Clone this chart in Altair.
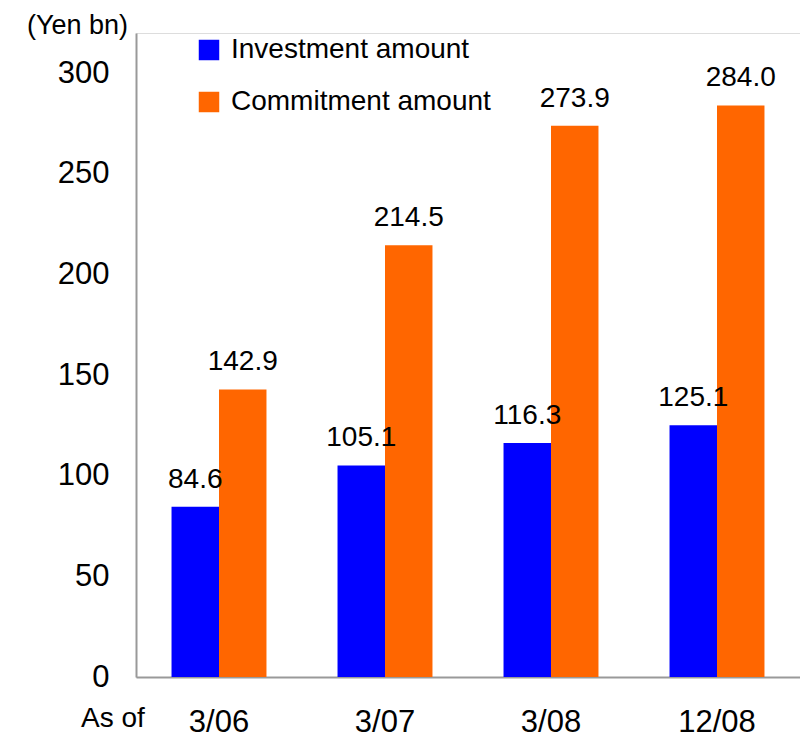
import altair as alt
import pandas as pd

# Balances by reporting date (Yen bn)
periods = ["3/06", "3/07", "3/08", "12/08"]
series_names = ["Investment amount", "Commitment amount"]
investment = [84.6, 105.1, 116.3, 125.1]
commitment = [142.9, 214.5, 273.9, 284.0]
series_colors = ["#0000FF", "#FF6600"]
y_ticks = [0, 50, 100, 150, 200, 250, 300]

rows = []
for p, inv, com in zip(periods, investment, commitment):
    rows.append({"period": p, "series": series_names[0], "value": inv, "label": f"{inv:.1f}"})
    rows.append({"period": p, "series": series_names[1], "value": com, "label": f"{com:.1f}"})
df = pd.DataFrame(rows)

FONT = "Liberation Sans"

x_enc = alt.X(
    "period:N",
    sort=periods,
    scale=alt.Scale(paddingInner=0.428, paddingOuter=0.214),
    axis=alt.Axis(
        title=None, labelAngle=0, ticks=False, labelFontSize=31, labelPadding=30,
        labelColor="black", domainColor="#999999", domainWidth=2, labelFont=FONT,
    ),
)
xoff_enc = alt.XOffset("series:N", sort=series_names)
y_enc = alt.Y(
    "value:Q",
    scale=alt.Scale(domain=[0, 320], nice=False),
    axis=alt.Axis(
        title=None, values=y_ticks, ticks=False, grid=False, labelFontSize=31,
        labelPadding=27, labelColor="black", domainColor="#999999", domainWidth=2,
        labelFont=FONT,
    ),
)

bars = alt.Chart(df).mark_bar().encode(
    x=x_enc,
    xOffset=xoff_enc,
    y=y_enc,
    color=alt.Color(
        "series:N",
        sort=series_names,
        scale=alt.Scale(domain=series_names, range=series_colors),
        legend=alt.Legend(
            title=None, orient="none", legendX=59, legendY=3, symbolType="square",
            symbolSize=420, symbolStrokeWidth=0, labelFontSize=28, labelFont=FONT,
            labelOffset=8, labelLimit=0, rowPadding=24, padding=0, labelColor="black",
        ),
    ),
)

labels = alt.Chart(df).mark_text(
    fontSize=28, font=FONT, baseline="alphabetic", dy=-19, color="black"
).encode(
    x=alt.X("period:N", sort=periods),
    xOffset=xoff_enc,
    y=alt.Y("value:Q"),
    text="label:N",
)

unit_note = alt.Chart(pd.DataFrame({"t": ["(Yen bn)"]})).mark_text(
    fontSize=27, font=FONT, align="right", baseline="middle", color="black"
).encode(x=alt.value(-8), y=alt.value(-7), text="t:N")

as_of = alt.Chart(pd.DataFrame({"t": ["As of"]})).mark_text(
    fontSize=28, font=FONT, align="left", baseline="alphabetic", color="black"
).encode(x=alt.value(-55), y=alt.value(694), text="t:N")

chart = (
    alt.layer(bars, labels, unit_note, as_of)
    .properties(
        width=664, height=644,
        autosize=alt.AutoSizeParams(type="none"),
        padding={"left": 136, "top": 33, "right": 0, "bottom": 60},
    )
    .configure_view(stroke=None)
    .configure(background="white")
)

chart.save("out.html", embed_options={"renderer": "svg", "actions": False})
